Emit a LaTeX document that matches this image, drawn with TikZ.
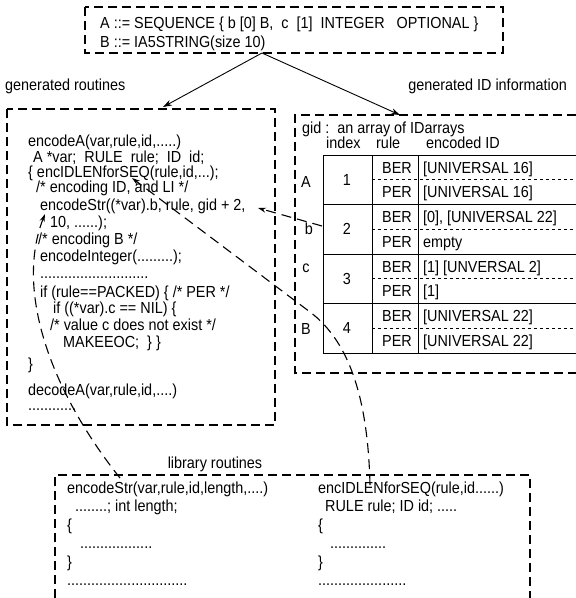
\documentclass[tikz,border=0pt]{standalone}
\usepackage{fontspec}
\setmainfont{Liberation Sans}[FakeStretch=0.9]
\usetikzlibrary{arrows.meta}

\begin{document}
\begin{tikzpicture}[x=1pt,y=-1pt,
  txt/.style={anchor=base west,inner sep=0pt,font=\fontsize{16}{18}\selectfont},
  frame/.style={line width=1.1pt,dash pattern=on 9pt off 5pt},
  link/.style={line width=1.1pt,dash pattern=on 10pt off 6pt,-{Stealth[length=8pt,width=5pt]}},
  feed/.style={line width=0.9pt,-{Stealth[length=9pt,width=6pt]}},
  grid/.style={line width=0.9pt}]

\useasboundingbox (0,0) rectangle (576,598);

% Frames
\draw[frame] (85,7) rectangle (503,53);
\draw[frame] (7,109) rectangle (275,425);
\draw[frame] (576,115) -- (295,115) -- (295,373) -- (576,373);
\draw[frame] (55,598) -- (55,475) -- (530,475) -- (530,598);

% ASN.1 definition
\node[txt] (asnA) at (100,28.5) {A ::= SEQUENCE \{ b [0] B,\ \ c\ \ [1]\ \ INTEGER\ \ \ OPTIONAL \}};
\node[txt] (asnB) at (100,47.5) {B ::= IA5STRING(size 10)};

% Frame titles
\node[txt] (genR) at (5,90) {generated routines};
\node[txt,anchor=base east] (genI) at (567,90) {generated ID information};
\node[txt,anchor=base] (libR) at (215,468) {library routines};

% Generated routines
\node[txt] (c1)  at (28,146.5) {encodeA(var,rule,id,.....)};
\node[txt] (c2)  at (33,162.5) {A *var;\ \ RULE\ \ rule;\ \ ID\ \ id;};
\node[txt] (c3)  at (28,177.5) {\{ encIDLENforSEQ(rule,id,...);};
\node[txt] (c4)  at (36,192.5) {/* encoding ID, and LI */};
\node[txt] (c5)  at (40,210.5) {encodeStr((*var).b, rule, gid + 2,};
\node[txt] (c6)  at (50,227.5) {10, ......);};
\node[txt] (c7)  at (38,244.5) {/* encoding B */};
\node[txt] (c8)  at (40,261.5) {encodeInteger(.........);};
\node[txt] (c9)  at (40,278)   {...........................};
\node[txt] (c10) at (40,297.5) {if (rule==PACKED) \{ /* PER */};
\node[txt] (c11) at (53,313.5) {if ((*var).c == NIL) \{};
\node[txt] (c12) at (50,330.5) {/* value c does not exist */};
\node[txt] (c13) at (63,347.5) {MAKEEOC;\ \ \} \}};
\node[txt] (c14) at (28,369)   {\}};
\node[txt] (c15) at (28,395.5) {decodeA(var,rule,id,....)};
\node[txt] (c16) at (28,410)   {............};

% ID table
\node[txt] (gid) at (302,133) {gid :\ \ an array of IDarrays};
\node[txt] (hIdx) at (326,148) {index};
\node[txt] (hRule) at (376,148) {rule};
\node[txt] (hEnc) at (426,148) {encoded ID};

\draw[grid] (576,155) -- (323,155) -- (323,353) -- (576,353);
\draw[grid] (372,155) -- (372,353);
\draw[grid] (418,155) -- (418,353);
\draw[grid] (323,204.5) -- (576,204.5);
\draw[grid] (323,254) -- (576,254);
\draw[grid] (323,303.5) -- (576,303.5);
\draw[grid,dashed] (372,179.75) -- (576,179.75);
\draw[grid,dashed] (372,229.25) -- (576,229.25);
\draw[grid,dashed] (372,278.75) -- (576,278.75);
\draw[grid,dashed] (372,328.25) -- (576,328.25);

\node[txt,anchor=base] (rowA) at (306,187) {A};
\node[txt,anchor=base] (rowb) at (309,234) {b};
\node[txt,anchor=base] (rowc) at (306,272) {c};
\node[txt,anchor=base] (rowB) at (306,334) {B};

\node[txt,anchor=base] (idx1) at (347,185) {1};
\node[txt,anchor=base] (idx2) at (347,234.5) {2};
\node[txt,anchor=base] (idx3) at (347,284) {3};
\node[txt,anchor=base] (idx4) at (347,333.5) {4};

\node[txt,anchor=base east] (ber1) at (412,173) {BER};
\node[txt,anchor=base east] (per1) at (412,197.5) {PER};
\node[txt,anchor=base east] (ber2) at (412,222.5) {BER};
\node[txt,anchor=base east] (per2) at (412,247) {PER};
\node[txt,anchor=base east] (ber3) at (412,272) {BER};
\node[txt,anchor=base east] (per3) at (412,296.5) {PER};
\node[txt,anchor=base east] (ber4) at (412,321.5) {BER};
\node[txt,anchor=base east] (per4) at (412,346) {PER};

\node[txt] (enc1b) at (423,173) {[UNIVERSAL 16]};
\node[txt] (enc1p) at (423,197.5) {[UNIVERSAL 16]};
\node[txt] (enc2b) at (423,222.5) {[0], [UNIVERSAL 22]};
\node[txt] (enc2p) at (423,247) {empty};
\node[txt] (enc3b) at (423,272) {[1] [UNVERSAL 2]};
\node[txt] (enc3p) at (423,296.5) {[1]};
\node[txt] (enc4b) at (423,321.5) {[UNIVERSAL 22]};
\node[txt] (enc4p) at (423,346) {[UNIVERSAL 22]};

% Library routines
\node[txt] (s1) at (67,493) {encodeStr(var,rule,id,length,....)};
\node[txt] (s2) at (75,511) {........; int length;};
\node[txt] (s3) at (67,530) {\{};
\node[txt] (s4) at (80,548) {..................};
\node[txt] (s5) at (67,567) {\}};
\node[txt] (s6) at (67,585) {..............................};

\node[txt] (q1) at (318,493) {encIDLENforSEQ(rule,id......)};
\node[txt] (q2) at (325,511) {RULE rule; ID id; .....};
\node[txt] (q3) at (318,530) {\{};
\node[txt] (q4) at (330,548) {..............};
\node[txt] (q5) at (318,567) {\}};
\node[txt] (q6) at (318,585) {......................};

% Generation arrows
\coordinate (split) at (262,53);
\coordinate (genTop) at (163,107);
\coordinate (gidTop) at (400,115);
\draw[feed] (split) -- (genTop);
\draw[feed] (split) -- (gidTop);

% Call links
\coordinate (strLib) at (120,478);
\coordinate (strUse) at (45,214);
\draw[link] (strLib) .. controls (50,390) and (15,290) .. (strUse);

\coordinate (seqLib) at (370,485);
\coordinate (seqBend) at (310,312);
\coordinate (seqUse) at (132,178);
\draw[link] (seqLib) .. controls (368,400) and (350,342) .. (seqBend) -- (seqUse);

\coordinate (bRow) at (322,226);
\coordinate (gidUse) at (258,208);
\draw[link] (bRow) -- (gidUse);

\end{tikzpicture}
\end{document}
